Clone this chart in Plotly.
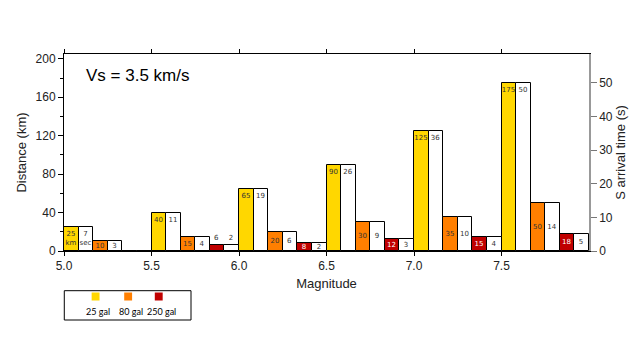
import plotly.graph_objects as go

magnitudes = [5.0, 5.5, 6.0, 6.5, 7.0, 7.5]
dist_25 = [25, 40, 65, 90, 125, 175]
time_25 = [7, 11, 19, 26, 36, 50]
dist_80 = [10, 15, 20, 30, 35, 50]
time_80 = [3, 4, 6, 9, 10, 14]
dist_250 = [0, 6, 8, 12, 15, 18]
time_250 = [0, 2, 2, 3, 4, 5]
legend_labels = ["25 gal", "80 gal", "250 gal"]
x_ticks = [5.0, 5.5, 6.0, 6.5, 7.0, 7.5]
vs = 3.5

YELLOW = "#FFD700"
ORANGE = "#FF7F00"
RED = "#C00000"
BW = 1 / 12

# page offset (browser body margin) compensation
OFF = 8
W, H = 640 - OFF, 360 - OFF
L, R, T, B = 57 - OFF, 51, 54 - OFF, 109
PW, PH = W - L - R, H - T - B


def labels(vals, first_unit=None):
    out = [str(v) if v else "" for v in vals]
    if first_unit and out[0]:
        out[0] = out[0] + "<br>" + first_unit
    return out


def positions(dist_vals):
    return ["outside" if 0 < d < 7 else "inside" for d in dist_vals]


fig = go.Figure()

# (label values, bar heights in km, fill, slot, unit, text colour, anchor)
series = [
    (dist_25, dist_25, YELLOW, 0, "km", "#333333", "end"),
    (time_25, dist_25, "white", 1, "sec", "#333333", "end"),
    (dist_80, dist_80, ORANGE, 2, None, "#333333", "middle"),
    (time_80, dist_80, "white", 3, None, "#333333", "middle"),
    (dist_250, dist_250, RED, 4, None, "white", "middle"),
    (time_250, dist_250, "white", 5, None, "#333333", "middle"),
]
for lab_vals, heights, col, k, unit, tcol, anchor in series:
    xs = [m + BW * (k + 0.5) for m in magnitudes]
    fig.add_trace(go.Bar(
        x=xs, y=heights, width=BW,
        marker=dict(color=col, line=dict(color="black", width=1)),
        text=labels(lab_vals, unit), textposition=positions(heights), textangle=0,
        insidetextanchor=anchor, constraintext="none",
        textfont=dict(family="DejaVu Sans", size=7, color=tcol),
        insidetextfont=dict(family="DejaVu Sans", size=7, color=tcol),
        outsidetextfont=dict(family="DejaVu Sans", size=7, color="#333333"),
        cliponaxis=False, showlegend=False, hoverinfo="skip",
    ))

# invisible trace to activate the secondary (time) axis
fig.add_trace(go.Scatter(x=[magnitudes[0]], y=[0], yaxis="y2", mode="markers",
                         marker=dict(opacity=0), showlegend=False, hoverinfo="skip"))

ymax = 205
fig.update_layout(
    width=W, height=H,
    margin=dict(l=L, r=R, t=T, b=B),
    paper_bgcolor="white", plot_bgcolor="white",
    barmode="overlay", bargap=0,
    font=dict(family="Liberation Sans, Arial", size=12, color="#222222"),
    xaxis=dict(
        range=[5.0, 8.0], tickvals=x_ticks, ticktext=[f"{t:.1f}" for t in x_ticks],
        showline=True, linecolor="black", linewidth=1, mirror="ticks",
        ticks="outside", ticklen=4, tickcolor="black", showgrid=False, zeroline=False,
        title=dict(text="Magnitude", font=dict(size=13), standoff=6),
        tickfont=dict(size=12),
    ),
    yaxis=dict(
        range=[0, ymax], tickvals=[0, 40, 80, 120, 160, 200],
        showline=True, linecolor="black", linewidth=1,
        ticks="outside", ticklen=5, tickcolor="black", showgrid=False, zeroline=False,
        minor=dict(tickvals=[20, 60, 100, 140, 180], ticks="outside", ticklen=3, tickcolor="black"),
        title=dict(text="Distance (km)", font=dict(size=13), standoff=6),
        tickfont=dict(size=12),
    ),
    yaxis2=dict(
        range=[0, ymax / vs], overlaying="y", side="right",
        tickvals=[0, 10, 20, 30, 40, 50],
        showline=True, linecolor="#999999", linewidth=1.5,
        ticks="outside", ticklen=6, tickcolor="#777777", showgrid=False, zeroline=False,
        title=dict(text="S arrival time (s)", font=dict(size=13), standoff=4),
        tickfont=dict(size=12),
    ),
)

fig.add_annotation(
    xref="paper", yref="paper", x=0.038, y=0.89, xanchor="left", yanchor="middle",
    text="Vs = 3.5 km/s", showarrow=False,
    font=dict(family="Liberation Sans, Arial", size=17, color="black"),
)


# legend box (pixel positions relative to plot area)
def px_x(px):
    return (px - 57) / PW


def px_y(py):
    return (251 - py) / PH


fig.add_shape(type="rect", xref="paper", yref="paper",
              x0=px_x(57.3), x1=px_x(185.7), y0=px_y(320), y1=px_y(290.7),
              line=dict(color="black", width=1), fillcolor="white")
leg_cols = [YELLOW, ORANGE, RED]
leg_x = [89, 122, 153]
for lab, col, px in zip(legend_labels, leg_cols, leg_x):
    fig.add_shape(type="rect", xref="paper", yref="paper",
                  x0=px_x(px - 4), x1=px_x(px + 4),
                  y0=px_y(300.5), y1=px_y(292.5),
                  line=dict(width=0), fillcolor=col)
    fig.add_annotation(xref="paper", yref="paper", x=px_x(px + 2.5), y=px_y(311),
                       text=lab, showarrow=False, xanchor="center", yanchor="middle",
                       font=dict(family="Lato", size=9, color="black"))

fig.write_html("out.html")
